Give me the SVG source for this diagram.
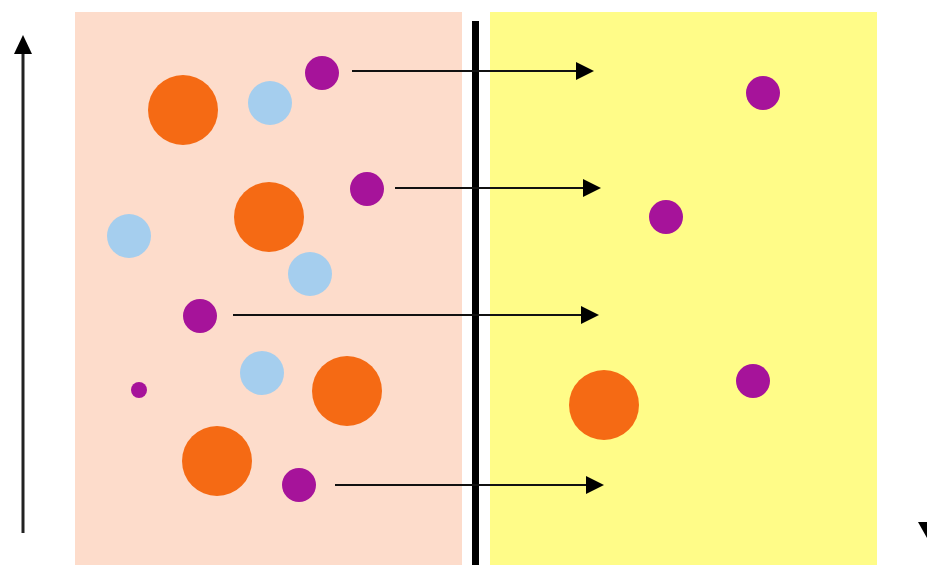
<svg xmlns="http://www.w3.org/2000/svg" width="927" height="565" viewBox="0 0 927 565">
  <defs>
    <marker id="head" markerWidth="10" markerHeight="10" refX="9" refY="5" orient="auto" markerUnits="userSpaceOnUse" viewBox="0 0 10 10">
      <path d="M0,0 L10,5 L0,10 Z" fill="#000"/>
    </marker>
    <style>
      .big { fill: #F56A14; }
      .mid { fill: #A5CEEE; }
      .small { fill: #A6139A; }
      .flow { stroke: #111; stroke-width: 2; fill: none; }
    </style>
  </defs>
  <rect width="927" height="565" fill="#fff"/>

  <!-- two compartments -->
  <rect id="left-side" x="75" y="12" width="387" height="553" fill="#FDDCCB"/>
  <rect id="right-side" x="490" y="12" width="387" height="553" fill="#FFFC88"/>

  <!-- membrane -->
  <rect id="membrane" x="472" y="21" width="7" height="544" fill="#000"/>

  <!-- vertical gradient arrows -->
  <g id="axis-up">
    <line x1="23" y1="50" x2="23" y2="533" stroke="#222" stroke-width="3"/>
    <path d="M14,54 L23,35 L32,54 Z" fill="#000"/>
  </g>
  <g id="axis-down">
    <path d="M918,522 L927,538 L936,522 Z" fill="#000"/>
  </g>

  <!-- connectors -->
  <g id="connectors">
    <line class="flow" x1="352" y1="71" x2="576" y2="71"/>
    <path d="M576,62 L594,71 L576,80 Z" fill="#000"/>
    <line class="flow" x1="395" y1="188" x2="583" y2="188"/>
    <path d="M583,179 L601,188 L583,197 Z" fill="#000"/>
    <line class="flow" x1="233" y1="315" x2="581" y2="315"/>
    <path d="M581,306 L599,315 L581,324 Z" fill="#000"/>
    <line class="flow" x1="335" y1="485" x2="586" y2="485"/>
    <path d="M586,476 L604,485 L586,494 Z" fill="#000"/>
  </g>

  <!-- large particles -->
  <g id="large">
    <circle class="big" cx="183" cy="110" r="35"/>
    <circle class="big" cx="269" cy="217" r="35"/>
    <circle class="big" cx="347" cy="391" r="35"/>
    <circle class="big" cx="217" cy="461" r="35"/>
    <circle class="big" cx="604" cy="405" r="35"/>
  </g>

  <!-- medium particles -->
  <g id="medium">
    <circle class="mid" cx="270" cy="103" r="22"/>
    <circle class="mid" cx="129" cy="236" r="22"/>
    <circle class="mid" cx="310" cy="274" r="22"/>
    <circle class="mid" cx="262" cy="373" r="22"/>
  </g>

  <!-- small particles -->
  <g id="small">
    <circle class="small" cx="322" cy="73" r="17"/>
    <circle class="small" cx="367" cy="189" r="17"/>
    <circle class="small" cx="200" cy="316" r="17"/>
    <circle class="small" cx="139" cy="390" r="8"/>
    <circle class="small" cx="299" cy="485" r="17"/>
    <circle class="small" cx="763" cy="93" r="17"/>
    <circle class="small" cx="666" cy="217" r="17"/>
    <circle class="small" cx="753" cy="381" r="17"/>
  </g>
</svg>
